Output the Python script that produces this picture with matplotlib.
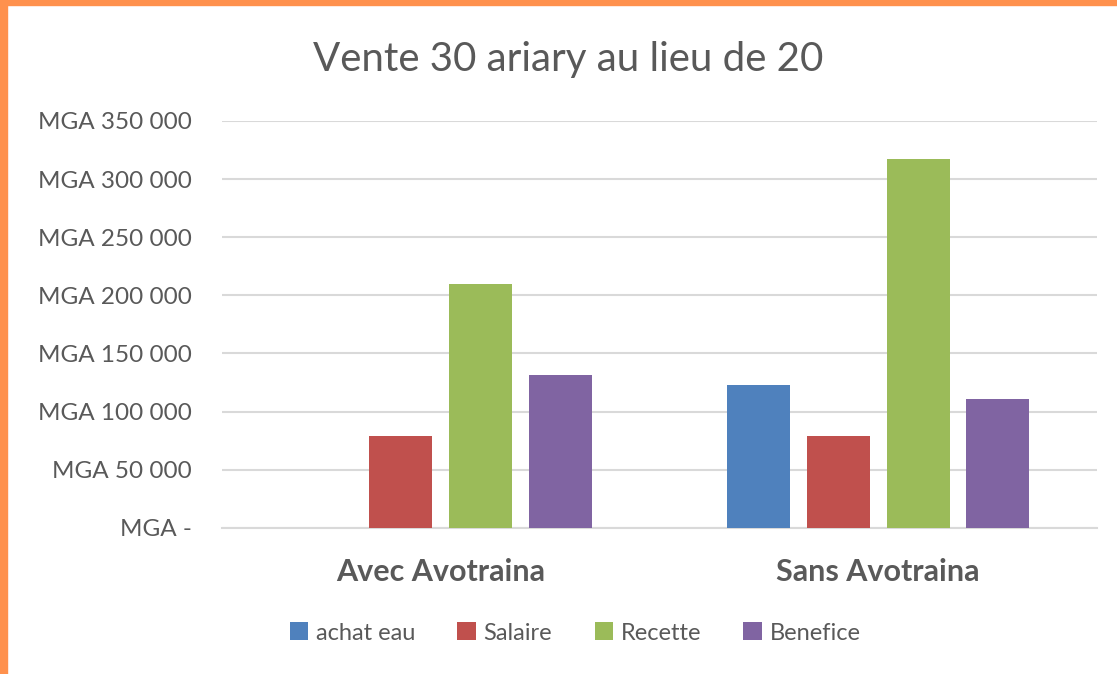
import numpy as np
import matplotlib.pyplot as plt
from matplotlib.patches import Rectangle

plt.rcParams['font.family'] = ['Lato', 'DejaVu Sans']

categories = ['Avec Avotraina', 'Sans Avotraina']
series = ['achat eau', 'Salaire', 'Recette', 'Benefice']
achat_eau = [0, 123000]
salaire = [79000, 79000]
recette = [210000, 317000]
benefice = [131000, 111000]
colors = ['#4F81BD', '#C0504D', '#9BBB59', '#8064A2']
yticks = [0, 50000, 100000, 150000, 200000, 250000, 300000, 350000]
ytick_labels = ['MGA -', 'MGA 50 000', 'MGA 100 000', 'MGA 150 000',
                'MGA 200 000', 'MGA 250 000', 'MGA 300 000', 'MGA 350 000']

txt = '#595959'
fig = plt.figure(figsize=(11.17, 6.74), dpi=100)
fig.patch.set_facecolor('white')

# orange frame (top and left)
fig.patches.append(Rectangle((0, 1 - 5/674), 1, 5/674, transform=fig.transFigure,
                             color='#FF914D', zorder=10))
fig.patches.append(Rectangle((0, 0), 7/1117, 1, transform=fig.transFigure,
                             color='#FF914D', zorder=10))

ax = fig.add_axes([222/1117, 1 - 527.7/674, 875/1117, (527.7 - 121)/674])
x = np.arange(len(categories))
step = 0.182
width = 0.144
data = [achat_eau, salaire, recette, benefice]
for i, (name, vals) in enumerate(zip(series, data)):
    ax.bar(x + (i - 1.5) * step, vals, width, color=colors[i], label=name, zorder=3)

ax.set_xlim(-0.5, 1.5)
ax.set_ylim(0, 350000)
ax.set_yticks(yticks)
ax.set_yticklabels(ytick_labels, fontsize=17.5, color=txt)
ax.set_xticks(x)
ax.set_xticklabels(categories, fontsize=22, fontweight='bold', color=txt)
ax.tick_params(length=0)
ax.tick_params(axis='y', pad=22)
ax.tick_params(axis='x', pad=22)
ax.grid(axis='y', color='#D9D9D9', linewidth=1.5, zorder=0)
for s in ['top', 'right', 'left']:
    ax.spines[s].set_visible(False)
ax.spines['bottom'].set_color('#D9D9D9')
ax.spines['bottom'].set_linewidth(1.5)

fig.text(568 / 1117, 1 - 60 / 674, 'Vente 30 ariary au lieu de 20', ha='center', va='center',
         fontsize=29, color=txt)

fig.legend(loc='center', bbox_to_anchor=(575 / 1117, 1 - 633 / 674), ncol=4, frameon=False,
           fontsize=17, handlelength=0.8, handleheight=0.8, handletextpad=0.3,
           columnspacing=1.8, labelcolor=txt)

fig.savefig('out.png', dpi=100, facecolor='white')
